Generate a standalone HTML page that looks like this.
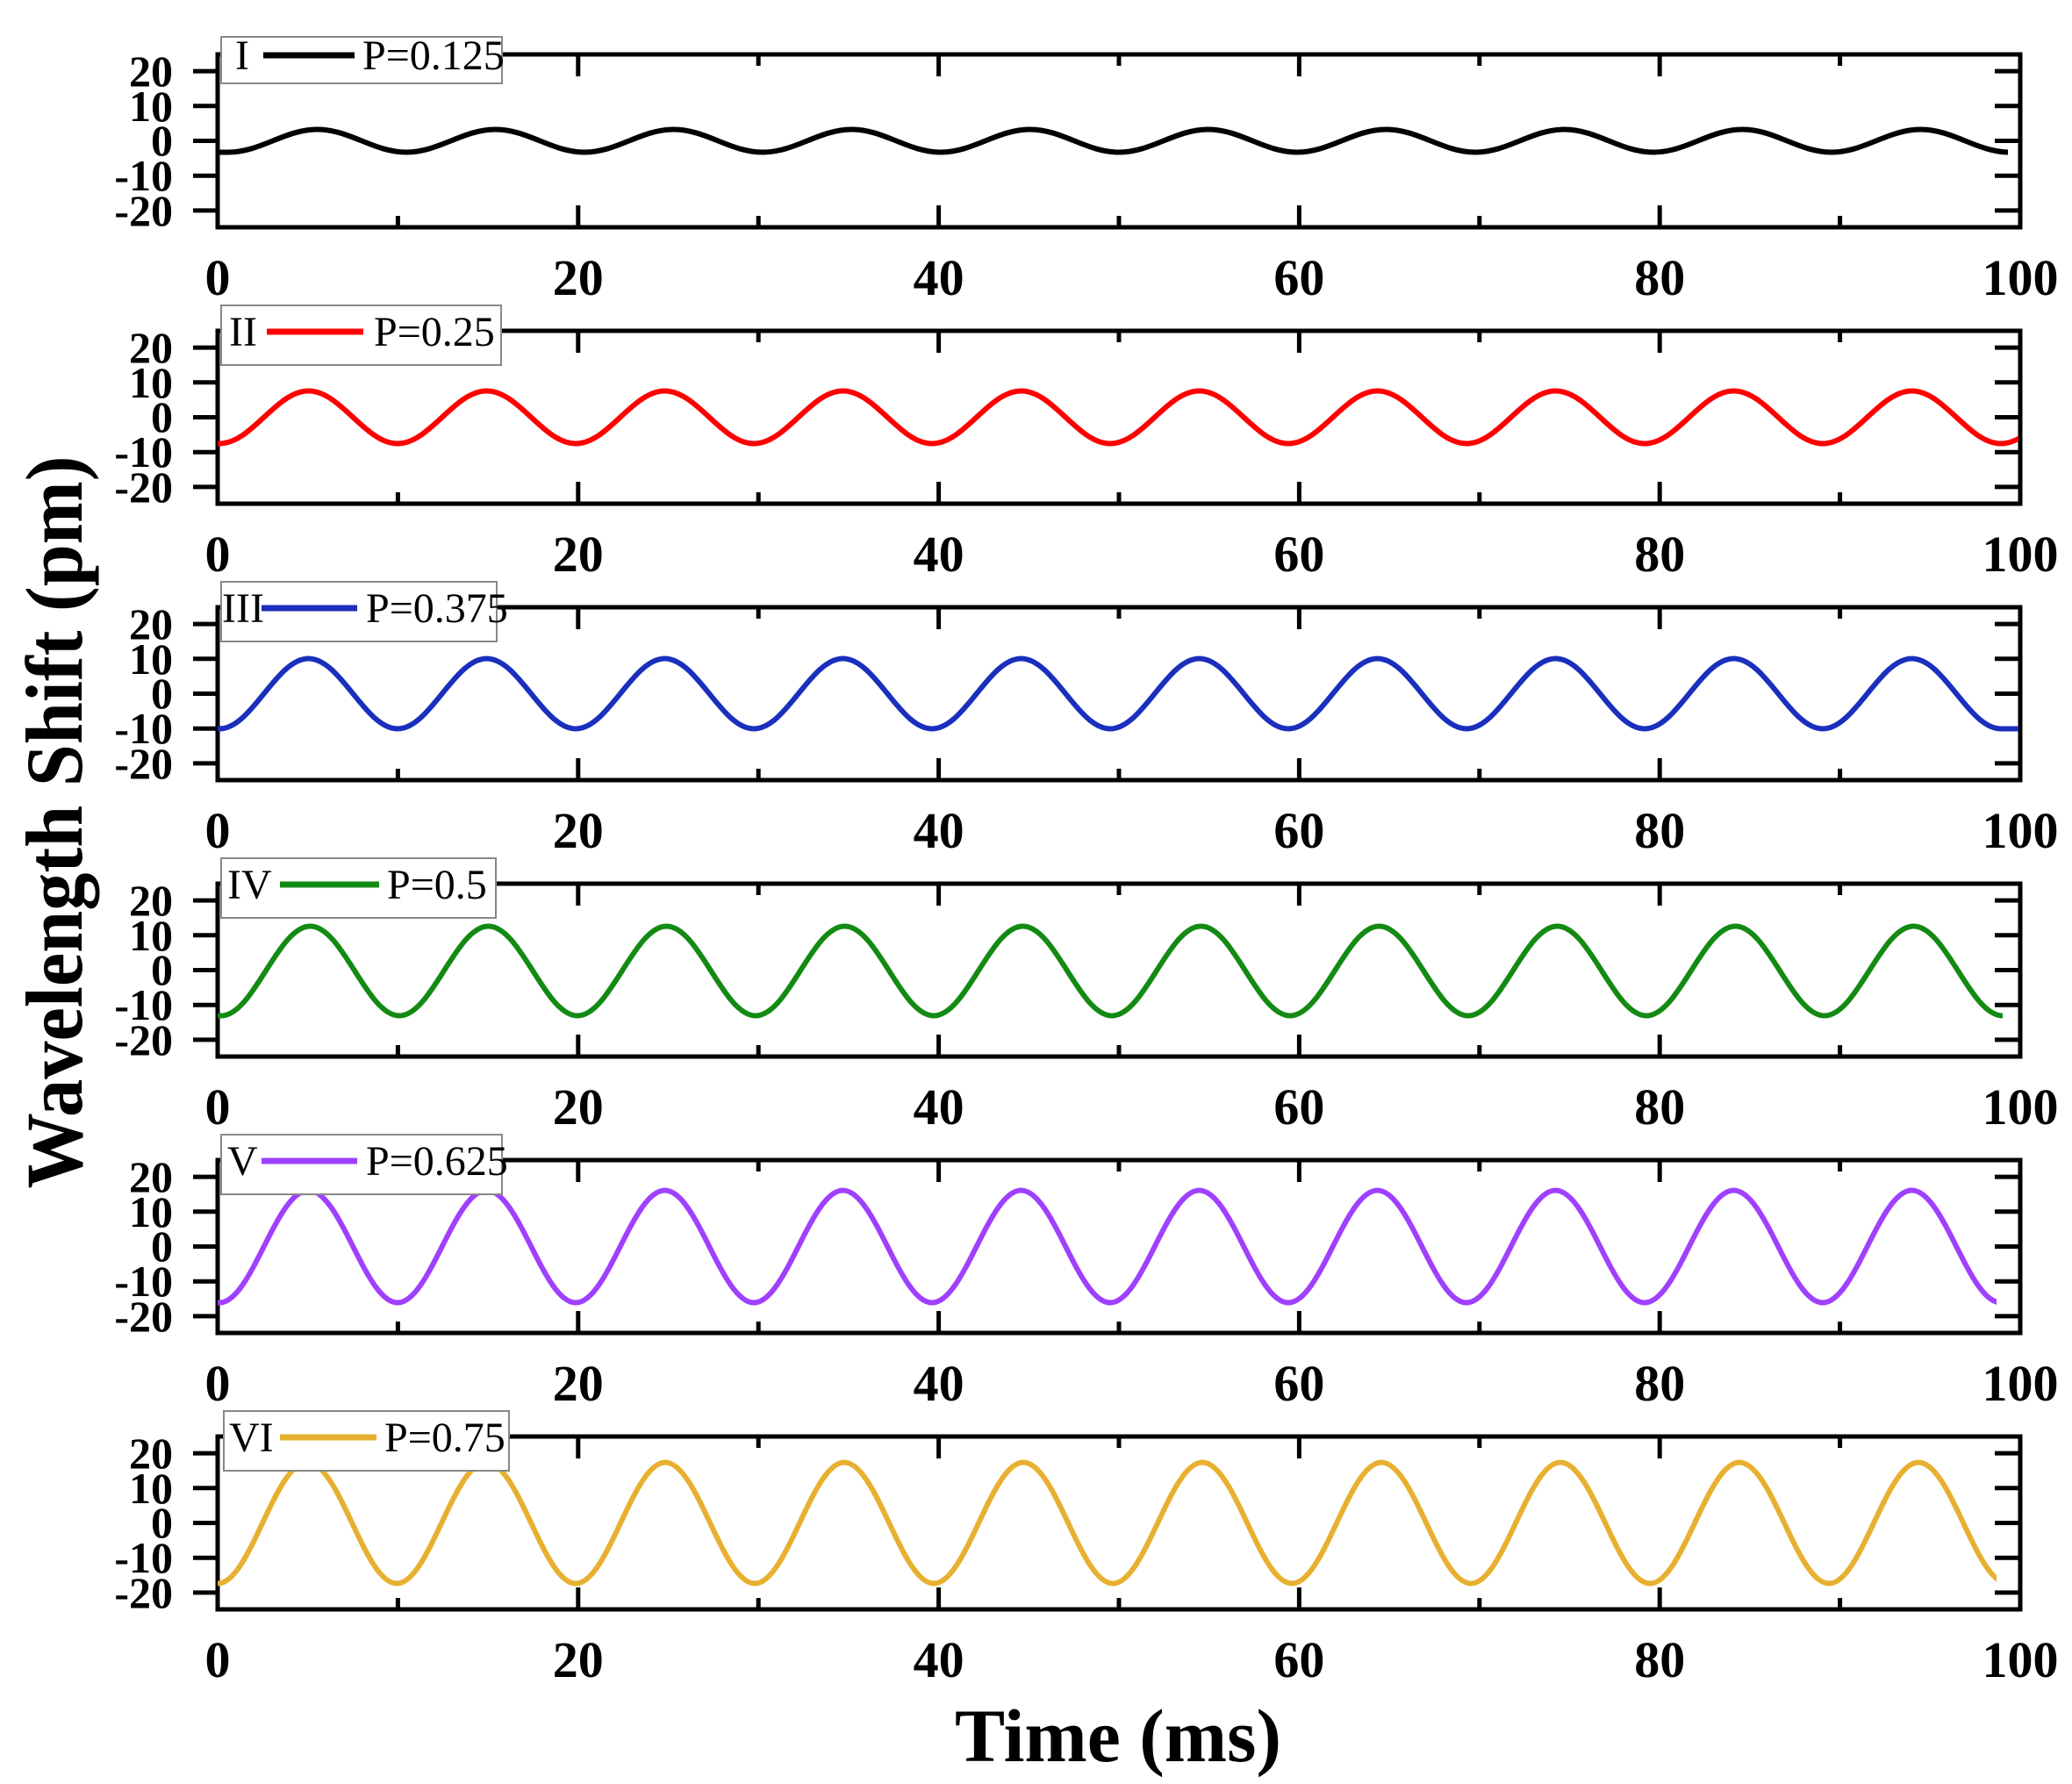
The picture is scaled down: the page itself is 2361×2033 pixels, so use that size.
<!DOCTYPE html>
<html><head><meta charset="utf-8"><style>html,body{margin:0;padding:0;background:#fff}svg{display:block}</style></head>
<body>
<svg width="2361" height="2033" viewBox="0 0 2361 2033" xmlns="http://www.w3.org/2000/svg" font-family="'Liberation Serif', serif">
<defs>
<clipPath id="cA" clipPathUnits="userSpaceOnUse"><rect x="248" y="-200" width="2052" height="400"/></clipPath>
<clipPath id="cB" clipPathUnits="userSpaceOnUse"><rect x="248" y="-200" width="2040" height="400"/></clipPath>
<clipPath id="cC" clipPathUnits="userSpaceOnUse"><rect x="248" y="-200" width="2027" height="400"/></clipPath>
<g id="axes">
<rect x="248" y="0" width="2054" height="197" fill="none" stroke="#000" stroke-width="5"/>
<g stroke="#000" stroke-width="5">
<path d="M248,197v-25M658.8,197v-25M1069.6,197v-25M1480.4,197v-25M1891.2,197v-25M453.4,197v-13M864.2,197v-13M1275,197v-13M1685.8,197v-13M2096.6,197v-13"/>
<path d="M658.8,0v25M1069.6,0v25M1480.4,0v25M1891.2,0v25M453.4,0v13M864.2,0v13M1275,0v13M1685.8,0v13M2096.6,0v13"/>
<path d="M220,19.1H248M220,58.8H248M220,98.5H248M220,138.2H248M220,177.9H248"/>
<path d="M2273,19.1H2302M2273,58.8H2302M2273,98.5H2302M2273,138.2H2302M2273,177.9H2302"/>
</g>
<g font-weight="bold" font-size="50" text-anchor="end">
<text x="197" y="36">20</text><text x="197" y="76">10</text><text x="197" y="115">0</text><text x="197" y="155">-10</text><text x="197" y="195">-20</text>
</g>
<g font-weight="bold" font-size="58" text-anchor="middle">
<text x="248" y="274">0</text><text x="658.8" y="274">20</text><text x="1069.6" y="274">40</text><text x="1480.4" y="274">60</text><text x="1891.2" y="274">80</text><text x="2302" y="274">100</text>
</g>
</g>
</defs>

<g transform="translate(0,62)">
<use href="#axes"/>
<path clip-path="url(#cB)" transform="translate(0,98.5)" fill="none" stroke="#000" stroke-width="6" d="M248,13 H260 c36.97,0 64.53,-26 101.5,-26 c36.97,0 64.53,26 101.5,26 c36.97,0 64.53,-26 101.5,-26 c36.97,0 64.53,26 101.5,26 c36.97,0 64.53,-26 101.5,-26 c36.97,0 64.53,26 101.5,26 c36.97,0 64.53,-26 101.5,-26 c36.97,0 64.53,26 101.5,26 c36.97,0 64.53,-26 101.5,-26 c36.97,0 64.53,26 101.5,26 c36.97,0 64.53,-26 101.5,-26 c36.97,0 64.53,26 101.5,26 c36.97,0 64.53,-26 101.5,-26 c36.97,0 64.53,26 101.5,26 c36.97,0 64.53,-26 101.5,-26 c36.97,0 64.53,26 101.5,26 c36.97,0 64.53,-26 101.5,-26 c36.97,0 64.53,26 101.5,26 c36.97,0 64.53,-26 101.5,-26 c36.97,0 64.53,26 101.5,26 c36.97,0 64.53,-26 101.5,-26"/>
<rect x="252" y="-20" width="320" height="53" fill="#fff" stroke="#888" stroke-width="2"/>
<text x="268" y="17" font-size="48">I</text>
<line x1="300" y1="1" x2="404" y2="1" stroke="#000" stroke-width="7"/>
<text x="413" y="17" font-size="48">P=0.125</text>
</g>

<g transform="translate(0,377)">
<use href="#axes"/>
<path clip-path="url(#cA)" transform="translate(0,98.5)" fill="none" stroke="#ff0000" stroke-width="6" d="M248,30 H250 c36.97,0 64.53,-60 101.5,-60 c36.97,0 64.53,60 101.5,60 c36.97,0 64.53,-60 101.5,-60 c36.97,0 64.53,60 101.5,60 c36.97,0 64.53,-60 101.5,-60 c36.97,0 64.53,60 101.5,60 c36.97,0 64.53,-60 101.5,-60 c36.97,0 64.53,60 101.5,60 c36.97,0 64.53,-60 101.5,-60 c36.97,0 64.53,60 101.5,60 c36.97,0 64.53,-60 101.5,-60 c36.97,0 64.53,60 101.5,60 c36.97,0 64.53,-60 101.5,-60 c36.97,0 64.53,60 101.5,60 c36.97,0 64.53,-60 101.5,-60 c36.97,0 64.53,60 101.5,60 c36.97,0 64.53,-60 101.5,-60 c36.97,0 64.53,60 101.5,60 c36.97,0 64.53,-60 101.5,-60 c36.97,0 64.53,60 101.5,60 c36.97,0 64.53,-60 101.5,-60"/>
<rect x="252" y="-29" width="319" height="68" fill="#fff" stroke="#888" stroke-width="2"/>
<text x="261" y="17" font-size="48">II</text>
<line x1="304" y1="1" x2="414" y2="1" stroke="#ff0000" stroke-width="7"/>
<text x="426" y="17" font-size="48">P=0.25</text>
</g>

<g transform="translate(0,692)">
<use href="#axes"/>
<path clip-path="url(#cA)" transform="translate(0,98.5)" fill="none" stroke="#1a2fbd" stroke-width="6" d="M248,40 H250 c36.97,0 64.53,-80 101.5,-80 c36.97,0 64.53,80 101.5,80 c36.97,0 64.53,-80 101.5,-80 c36.97,0 64.53,80 101.5,80 c36.97,0 64.53,-80 101.5,-80 c36.97,0 64.53,80 101.5,80 c36.97,0 64.53,-80 101.5,-80 c36.97,0 64.53,80 101.5,80 c36.97,0 64.53,-80 101.5,-80 c36.97,0 64.53,80 101.5,80 c36.97,0 64.53,-80 101.5,-80 c36.97,0 64.53,80 101.5,80 c36.97,0 64.53,-80 101.5,-80 c36.97,0 64.53,80 101.5,80 c36.97,0 64.53,-80 101.5,-80 c36.97,0 64.53,80 101.5,80 c36.97,0 64.53,-80 101.5,-80 c36.97,0 64.53,80 101.5,80 c36.97,0 64.53,-80 101.5,-80 c36.97,0 64.53,80 101.5,80 H2302"/>
<rect x="252" y="-29" width="314" height="68" fill="#fff" stroke="#888" stroke-width="2"/>
<text x="253" y="17" font-size="48">III</text>
<line x1="298" y1="1" x2="407" y2="1" stroke="#1a2fbd" stroke-width="7"/>
<text x="417" y="17" font-size="48">P=0.375</text>
</g>

<g transform="translate(0,1007)">
<use href="#axes"/>
<path clip-path="url(#cA)" transform="translate(0,98.5)" fill="none" stroke="#138a13" stroke-width="6" d="M248,52 H252 c36.97,0 64.53,-102 101.5,-102 c36.97,0 64.53,102 101.5,102 c36.97,0 64.53,-102 101.5,-102 c36.97,0 64.53,102 101.5,102 c36.97,0 64.53,-102 101.5,-102 c36.97,0 64.53,102 101.5,102 c36.97,0 64.53,-102 101.5,-102 c36.97,0 64.53,102 101.5,102 c36.97,0 64.53,-102 101.5,-102 c36.97,0 64.53,102 101.5,102 c36.97,0 64.53,-102 101.5,-102 c36.97,0 64.53,102 101.5,102 c36.97,0 64.53,-102 101.5,-102 c36.97,0 64.53,102 101.5,102 c36.97,0 64.53,-102 101.5,-102 c36.97,0 64.53,102 101.5,102 c36.97,0 64.53,-102 101.5,-102 c36.97,0 64.53,102 101.5,102 c36.97,0 64.53,-102 101.5,-102 c36.97,0 64.53,102 101.5,102"/>
<rect x="252" y="-29" width="313" height="68" fill="#fff" stroke="#888" stroke-width="2"/>
<text x="259" y="17" font-size="48">IV</text>
<line x1="319" y1="1" x2="432" y2="1" stroke="#138a13" stroke-width="7"/>
<text x="441" y="17" font-size="48">P=0.5</text>
</g>

<g transform="translate(0,1322)">
<use href="#axes"/>
<path clip-path="url(#cC)" transform="translate(0,98.5)" fill="none" stroke="#a040ff" stroke-width="6" d="M248,64 H250 c36.97,0 64.53,-128 101.5,-128 c36.97,0 64.53,128 101.5,128 c36.97,0 64.53,-128 101.5,-128 c36.97,0 64.53,128 101.5,128 c36.97,0 64.53,-128 101.5,-128 c36.97,0 64.53,128 101.5,128 c36.97,0 64.53,-128 101.5,-128 c36.97,0 64.53,128 101.5,128 c36.97,0 64.53,-128 101.5,-128 c36.97,0 64.53,128 101.5,128 c36.97,0 64.53,-128 101.5,-128 c36.97,0 64.53,128 101.5,128 c36.97,0 64.53,-128 101.5,-128 c36.97,0 64.53,128 101.5,128 c36.97,0 64.53,-128 101.5,-128 c36.97,0 64.53,128 101.5,128 c36.97,0 64.53,-128 101.5,-128 c36.97,0 64.53,128 101.5,128 c36.97,0 64.53,-128 101.5,-128 c36.97,0 64.53,128 101.5,128 H2275"/>
<rect x="252" y="-29" width="320" height="68" fill="#fff" stroke="#888" stroke-width="2"/>
<text x="259" y="17" font-size="48">V</text>
<line x1="298" y1="1" x2="407" y2="1" stroke="#a040ff" stroke-width="7"/>
<text x="417" y="17" font-size="48">P=0.625</text>
</g>

<g transform="translate(0,1637)">
<use href="#axes"/>
<path clip-path="url(#cC)" transform="translate(0,98.5)" fill="none" stroke="#e8b030" stroke-width="6" d="M248,69 c37.3,0 65.1,-138 102,-138 c37.3,0 65.1,138 102,138 c37.3,0 65.1,-138 102,-138 c37.3,0 65.1,138 102,138 c37.3,0 65.1,-138 102,-138 c37.3,0 65.1,138 102,138 c37.3,0 65.1,-138 102,-138 c37.3,0 65.1,138 102,138 c37.3,0 65.1,-138 102,-138 c37.3,0 65.1,138 102,138 c37.3,0 65.1,-138 102,-138 c37.3,0 65.1,138 102,138 c37.3,0 65.1,-138 102,-138 c37.3,0 65.1,138 102,138 c37.3,0 65.1,-138 102,-138 c37.3,0 65.1,138 102,138 c37.3,0 65.1,-138 102,-138 c37.3,0 65.1,138 102,138 c37.3,0 65.1,-138 102,-138 c37.3,0 65.1,138 102,138"/>
<rect x="255" y="-29" width="325" height="68" fill="#fff" stroke="#888" stroke-width="2"/>
<text x="261" y="17" font-size="48">VI</text>
<line x1="319" y1="1" x2="429" y2="1" stroke="#e8b030" stroke-width="7"/>
<text x="438" y="17" font-size="48">P=0.75</text>
</g>

<text transform="translate(93,937) rotate(-90)" text-anchor="middle" font-weight="bold" font-size="92" textLength="835" lengthAdjust="spacingAndGlyphs">Wavelength Shift (pm)</text>
<text x="1274" y="2007" text-anchor="middle" font-weight="bold" font-size="86" textLength="372" lengthAdjust="spacingAndGlyphs">Time (ms)</text>
</svg>
</body></html>
